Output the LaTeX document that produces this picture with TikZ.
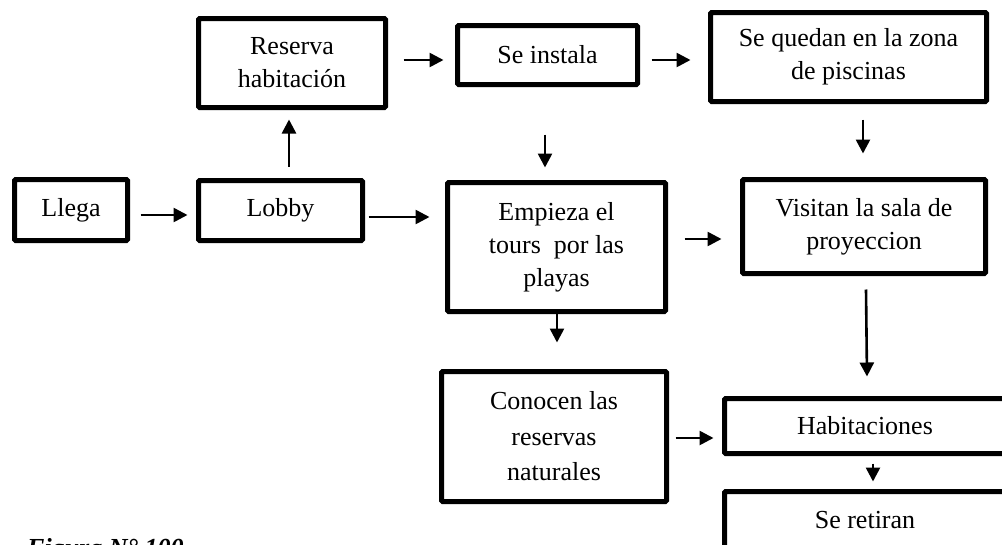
\documentclass[tikz,border=0pt]{standalone}
\usepackage{fontspec}
\setmainfont{Liberation Serif}
\usetikzlibrary{arrows.meta}
\begin{document}
\begin{tikzpicture}[x=1pt,y=-1pt,
  box/.style={draw=black, line width=5pt, rounded corners=1.2pt, inner sep=0pt,
    align=center, font=\fontsize{26}{33}\selectfont},
  arr/.style={line width=2.6pt, -{Triangle[length=14pt,width=14pt]}},
  capt/.style={font=\fontsize{26}{31}\selectfont\bfseries\itshape, inner sep=0pt}]
\useasboundingbox (0,0) rectangle (1002,544);
\fill[white] (0,0) rectangle (1002,544);
\clip (0,0) rectangle (1002,544);

\node[box, minimum width=113pt, minimum height=61pt] (llega) at (71,210) {Llega};
\node[box, minimum width=164pt, minimum height=60pt] (lobby) at (280.5,210.5) {Lobby};
\node[box, minimum width=187pt, minimum height=89pt] (reserva) at (292,63) {Reserva\\habitación};
\node[box, minimum width=180pt, minimum height=59pt] (instala) at (547.5,55) {Se instala};
\node[box, minimum width=276pt, minimum height=89pt] (quedan) at (848.5,57) {Se quedan en la zona\\de piscinas};
\node[box, minimum width=218pt, minimum height=129pt, font=\fontsize{26}{33}\selectfont] (empieza) at (556.5,247) {Empieza el\\tours~ por las\\playas};
\node[box, minimum width=243pt, minimum height=94pt] (visitan) at (864,226.5) {Visitan la sala de\\proyeccion};
\node[box, minimum width=225pt, minimum height=130pt, font=\fontsize{26}{35.5}\selectfont] (conocen) at (554,436.5) {Conocen las\\reservas\\naturales};
\node[box, minimum width=281pt, minimum height=55pt] (hab) at (865,426) {Habitaciones};
\node[box, minimum width=281pt, minimum height=57pt] (retiran) at (865,520) {Se retiran};

\node[capt, anchor=base west] (fig) at (27,556) {Figura N° 100};

\draw[arr] ([xshift=10.5pt,yshift=-5pt]llega.east) -- ([xshift=-8.5pt,yshift=-4.5pt]lobby.west);
\draw[arr] ([xshift=8.5pt,yshift=11.5pt]lobby.north) -- ([xshift=-3pt,yshift=-9.5pt]reserva.south);
\draw[arr] ([xshift=15.5pt,yshift=3pt]reserva.east) -- ([xshift=-11.5pt,yshift=-5pt]instala.west);
\draw[arr] ([xshift=3.5pt,yshift=-6.5pt]lobby.east) -- ([xshift=-15.5pt,yshift=30pt]empieza.west);
\draw[arr] ([xshift=11.5pt,yshift=-5pt]instala.east) -- ([xshift=-17.5pt,yshift=-3pt]quedan.west);
\draw[arr] ([xshift=-2.5pt,yshift=-47.5pt]instala.south) -- ([xshift=-11.5pt,yshift=12.5pt]empieza.north);
\draw[arr] ([xshift=14.5pt,yshift=-15.5pt]quedan.south) -- ([xshift=-1pt,yshift=23.5pt]visitan.north);
\draw[arr] ([xshift=16.5pt,yshift=8pt]empieza.east) -- ([xshift=-18.5pt,yshift=-12.5pt]visitan.west);
\draw[arr] ([xshift=0.5pt,yshift=4.5pt]empieza.south) -- ([xshift=3pt,yshift=26.5pt]conocen.north);
\draw[arr] ([xshift=2pt,yshift=-13.5pt]visitan.south) -- ([xshift=2pt,yshift=19.5pt]hab.north);
\draw[arr] ([xshift=6.5pt,yshift=-1.5pt]conocen.east) -- ([xshift=-8.5pt,yshift=-12pt]hab.west);
\draw[arr] ([xshift=8pt,yshift=-7.5pt]hab.south) -- ([xshift=8pt,yshift=7.5pt]retiran.north);
\end{tikzpicture}
\end{document}
